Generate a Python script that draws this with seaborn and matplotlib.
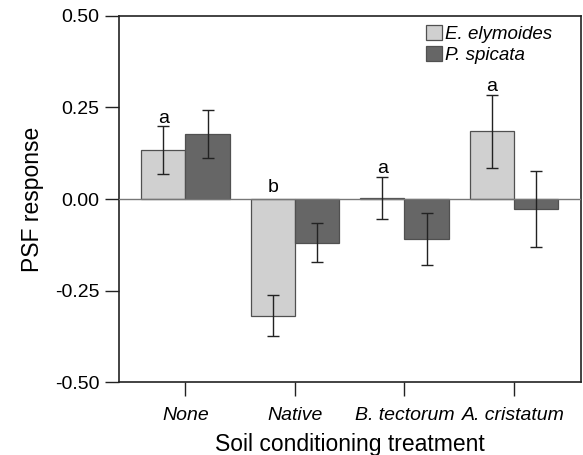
import matplotlib
matplotlib.use("Agg")
import matplotlib.pyplot as plt
import seaborn as sns
import pandas as pd
import numpy as np

treatments = ["None", "Native", "B. tectorum", "A. cristatum"]
species = ["E. elymoides", "P. spicata"]
elymoides_mean = [0.134, -0.318, 0.003, 0.185]
elymoides_se = [0.065, 0.057, 0.057, 0.099]
spicata_mean = [0.177, -0.119, -0.110, -0.027]
spicata_se = [0.065, 0.054, 0.071, 0.103]
letters = ["a", "b", "a", "a"]

df = pd.DataFrame({
    "treatment": treatments * 2,
    "species": [species[0]] * 4 + [species[1]] * 4,
    "value": elymoides_mean + spicata_mean,
    "se": elymoides_se + spicata_se,
})

sns.set_style("ticks")
plt.rcParams['font.family'] = ['Liberation Sans', 'DejaVu Sans']
plt.rcParams['text.color'] = 'black'
plt.rcParams['axes.labelcolor'] = 'black'
plt.rcParams['xtick.color'] = 'black'
plt.rcParams['ytick.color'] = 'black'

fig = plt.figure(figsize=(5.83, 4.55), dpi=100)
ax = fig.add_axes([0.204, 0.16, 0.792, 0.805])

palette = {species[0]: "#d0d0d0", species[1]: "#666666"}
sns.barplot(data=df, x="treatment", y="value", hue="species", order=treatments,
            hue_order=species, palette=palette, errorbar=None, width=0.81,
            edgecolor="#505050", linewidth=0.9, saturation=1, ax=ax)

# error bars from bar geometry
centers = [p.get_x() + p.get_width() / 2 for p in ax.patches[:8]]
means = elymoides_mean + spicata_mean
ses = elymoides_se + spicata_se
ax.errorbar(centers, means, yerr=ses, fmt="none", ecolor="#222222",
            elinewidth=1.0, capsize=4, capthick=1.0, zorder=5)

# letters above E. elymoides bars
for i, lt in enumerate(letters):
    y = (elymoides_mean[i] + elymoides_se[i] + 0.01) if elymoides_mean[i] >= 0 else 0.018
    ax.text(centers[i], y, lt, ha="center", va="baseline", fontsize=14, color="black")

ax.axhline(0, color="#777777", lw=1.0, zorder=4)

ax.set_ylim(-0.5, 0.5)
ax.set_xlim(-0.607, 3.61)
ax.set_yticks([-0.5, -0.25, 0, 0.25, 0.5])
ax.set_yticklabels(["-0.50", "-0.25", "0.00", "0.25", "0.50"], fontsize=14)
ax.set_xticks(range(len(treatments)))
ax.set_xticklabels(treatments, fontsize=14, style="italic")
ax.tick_params(axis="both", direction="out", length=10, width=1.0, color="#222222", pad=8)
ax.tick_params(axis="y", pad=4)
for s in ax.spines.values():
    s.set_visible(True)
    s.set_linewidth(1.2)
    s.set_color("#222222")

ax.set_xlabel("Soil conditioning treatment", fontsize=16.5, labelpad=6)
ax.set_ylabel("PSF response", fontsize=16.5, labelpad=8)

leg = ax.legend(loc="upper left", bbox_to_anchor=(0.665, 0.975), frameon=False,
                handlelength=0.85, handleheight=0.85, handletextpad=0.15,
                labelspacing=0.15, borderpad=0, borderaxespad=0,
                prop={"size": 13.5, "style": "italic"})

fig.savefig("out.png", dpi=100)
